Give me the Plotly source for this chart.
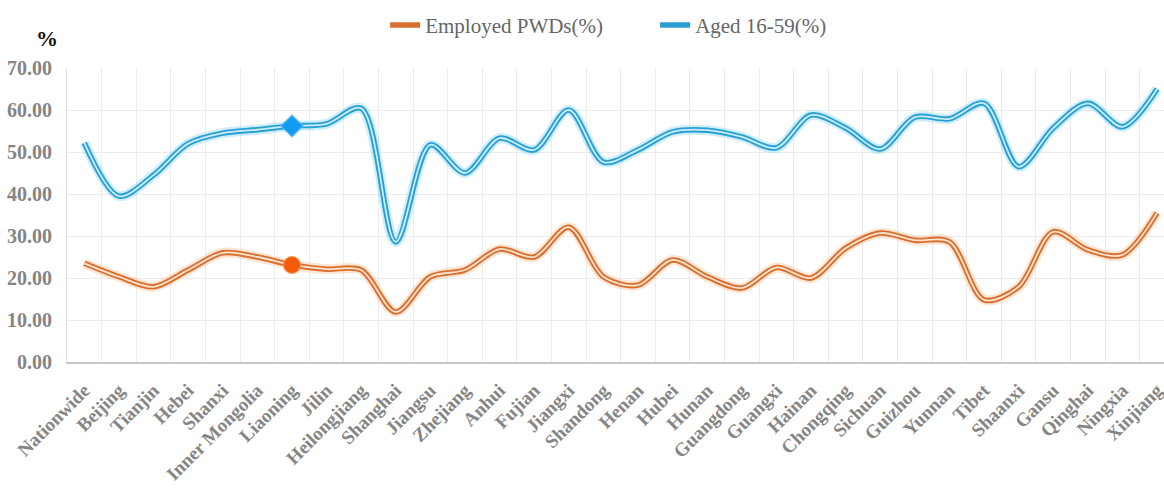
import plotly.graph_objects as go

categories = ["Nationwide", "Beijing", "Tianjin", "Hebei", "Shanxi", "Inner Mongolia",
              "Liaoning", "Jilin", "Heilongjiang", "Shanghai", "Jiangsu", "Zhejiang",
              "Anhui", "Fujian", "Jiangxi", "Shandong", "Henan", "Hubei", "Hunan",
              "Guangdong", "Guangxi", "Hainan", "Chongqing", "Sichuan", "Guizhou",
              "Yunnan", "Tibet", "Shaanxi", "Gansu", "Qinghai", "Ningxia", "Xinjiang"]

employed = [23.5, 20.3, 17.9, 21.9, 26.0, 25.0, 23.1, 22.1, 21.9, 11.9, 20.3, 21.9,
            26.9, 25.0, 32.1, 20.3, 18.3, 24.3, 20.3, 17.6, 22.5, 20.0, 27.1, 30.7,
            29.0, 28.6, 14.8, 17.9, 31.0, 26.7, 25.5, 35.5]

aged = [52.2, 39.5, 44.5, 52.0, 54.5, 55.3, 56.2, 56.7, 60.4, 28.6, 51.7, 45.0,
        53.3, 50.5, 60.0, 47.6, 50.5, 54.8, 55.2, 53.6, 51.0, 58.8, 55.7, 50.7,
        58.3, 57.9, 61.6, 46.5, 55.7, 61.6, 56.0, 65.0]

highlight = "Liaoning"
y_ticks = [0, 10, 20, 30, 40, 50, 60, 70]

series = [
    ("Employed PWDs(%)", employed, "#D86F2E", "#FBE3CF", "rgba(248,170,110,0.30)"),
    ("Aged 16-59(%)", aged, "#2A9FD2", "#C8EEFB", "rgba(90,200,240,0.30)"),
]

fig = go.Figure()
for name, vals, edge, core, glow in series:
    fig.add_trace(go.Scatter(x=categories, y=vals, mode="lines", showlegend=False,
                             line=dict(color=glow, width=10, shape="spline", smoothing=0.9),
                             hoverinfo="skip"))
    fig.add_trace(go.Scatter(x=categories, y=vals, mode="lines", name=name,
                             line=dict(color=edge, width=5.5, shape="spline", smoothing=0.9)))
    fig.add_trace(go.Scatter(x=categories, y=vals, mode="lines", showlegend=False,
                             line=dict(color=core, width=1.8, shape="spline", smoothing=0.9),
                             hoverinfo="skip"))

hi = categories.index(highlight)
fig.add_trace(go.Scatter(x=[highlight], y=[employed[hi]], mode="markers", showlegend=False,
                         marker=dict(symbol="circle", size=17, color="#F25C0A",
                                     line=dict(color="rgba(250,150,90,0.6)", width=1.5))))
fig.add_trace(go.Scatter(x=[highlight], y=[aged[hi]], mode="markers", showlegend=False,
                         marker=dict(symbol="diamond", size=17, color="#129CEF",
                                     line=dict(color="rgba(90,190,250,0.6)", width=1.5))))

serif = "Liberation Serif, Times New Roman, serif"
xtickfont = dict(family=serif, size=19, color="#858585", weight="bold")
ytickfont = dict(family=serif, size=20, color="#858585", weight="bold")

fig.update_layout(
    width=1164, height=493,
    margin=dict(l=67, r=0, t=68, b=131, autoexpand=False),
    paper_bgcolor="white", plot_bgcolor="white",
    legend=dict(orientation="h", x=0.29, xanchor="left", y=1.145, yanchor="middle",
                entrywidth=225, entrywidthmode="pixels",
                font=dict(family=serif, size=21, color="#666666"),
                bgcolor="rgba(0,0,0,0)"),
    xaxis=dict(type="category", categoryorder="array", categoryarray=categories,
               range=[-0.5, 31.2], tickson="boundaries", ticks="",
               showgrid=True, gridcolor="#ececec", gridwidth=1,
               showline=True, linecolor="#c8c8c8", linewidth=1.5,
               tickangle=-45, tickfont=xtickfont, ticklabelstandoff=8, automargin=False),
    yaxis=dict(range=[0, 70], tickvals=y_ticks, tickformat=".2f",
               showgrid=True, gridcolor="#ececec", gridwidth=1,
               showline=True, linecolor="#dcdcdc", linewidth=1,
               zeroline=False, ticks="", tickfont=ytickfont, ticklabelstandoff=10,
               automargin=False),
    annotations=[dict(text="<b>%</b>", xref="paper", yref="paper", x=-0.018, y=1.102,
                      xanchor="center", yanchor="middle", showarrow=False,
                      font=dict(family=serif, size=22, color="#111111"))],
)

fig.write_html("out.html")
